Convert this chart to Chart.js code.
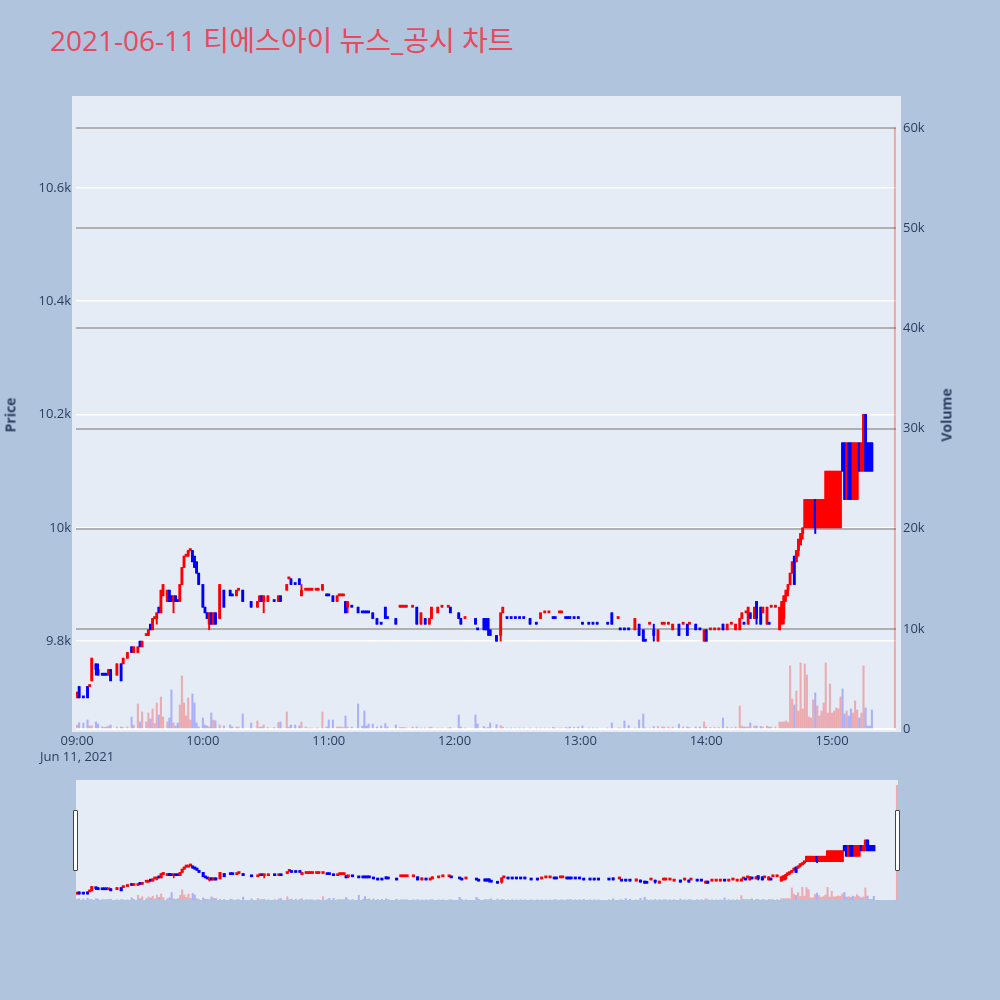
<!DOCTYPE html>
<html>
<head>
<meta charset="utf-8">
<script src="https://cdn.jsdelivr.net/npm/chart.js@4.4.1/dist/chart.umd.min.js"></script>
<style>
    body { margin: 0; background: #b0c4de; width: 1000px; height: 1000px; overflow: hidden; position: relative;
           font-family: "Open Sans", "Noto Sans CJK KR", sans-serif; }
    #title { position: absolute; left: 50px; top: 21px; font-size: 28px; line-height: 38px; color: #e8495c; white-space: nowrap; }
    .axis-title { position: absolute; font-size: 14px; font-weight: bold; color: #2a3f5f; white-space: nowrap;
                  transform: translate(-50%, -50%) rotate(-90deg); }
    #main { position: absolute; left: 0; top: 0; }
    #slider { position: absolute; left: 76px; top: 780px; }
    .handle { position: absolute; top: 810px; width: 3px; height: 59px; background: #fff; border: 1px solid #444; border-radius: 1px; }
</style>
</head>
<body>
<div id="title">2021-06-11 티에스아이 뉴스_공시 차트</div>
<canvas id="main" width="1000" height="770"></canvas>
<canvas id="slider" width="822" height="120"></canvas>
<div class="axis-title" style="left:10px; top:415px;">Price</div>
<div class="axis-title" style="left:946px; top:415px;">Volume</div>
<div class="handle" style="left:73px;"></div>
<div class="handle" style="left:895px;"></div>

<script>
// minutes after 09:00
const minutes = [
    0,1,3,5,6,7,9,10,12,13,
    14,15,16,19,21,22,24,26,27,29,
    30,31,33,34,35,36,37,38,39,40,
    41,43,44,45,46,47,48,49,50,51,
    52,53,54,55,56,57,58,60,61,62,
    63,64,65,66,68,70,73,74,76,77,
    79,83,86,87,88,89,91,94,96,97,
    100,101,102,104,106,107,109,110,111,112,
    114,115,117,119,120,122,124,125,126,127,
    128,129,131,134,136,137,138,139,141,143,
    145,147,148,152,154,155,156,157,160,162,
    164,166,168,169,172,174,177,178,182,183,
    185,190,191,194,195,196,197,200,202,203,
    205,207,209,211,213,216,219,221,223,225,
    227,228,230,231,233,234,235,237,239,241,
    244,246,248,253,255,258,259,261,263,266,
    268,270,271,273,275,277,279,280,282,284,
    287,289,291,292,295,297,299,300,302,304,
    306,308,310,312,314,316,317,318,319,320,
    321,323,324,326,327,329,330,331,333,335,
    336,337,338,339,340,341,342,343,344,345,
    346,347,348,349,350,351,352,353,354,355,
    356,357,358,359,360,361,362,363,364,365,
    366,367,368,369,370,371,372,373,374,375,
    376,377,378,379,390
];

const opens = [
    9700,9720,9700,9720,9720,9730,9760,9750,9740,9740,
    9740,9740,9750,9740,9760,9760,9770,9790,9780,9780,
    9800,9790,9810,9810,9830,9820,9840,9840,9860,9850,
    9880,9870,9890,9880,9870,9880,9870,9870,9900,9930,
    9950,9950,9960,9960,9950,9940,9920,9900,9860,9850,
    9830,9850,9830,9850,9840,9890,9890,9880,9880,9890,
    9890,9870,9860,9870,9880,9870,9870,9870,9870,9880,
    9890,9910,9910,9900,9910,9880,9890,9890,9890,9890,
    9890,9890,9890,9880,9880,9880,9870,9880,9880,9880,
    9870,9860,9860,9860,9850,9850,9850,9850,9850,9840,
    9830,9860,9840,9840,9860,9860,9860,9860,9860,9860,
    9830,9840,9830,9840,9850,9860,9860,9860,9850,9840,
    9840,9840,9820,9840,9840,9840,9820,9810,9810,9850,
    9840,9840,9840,9840,9840,9840,9830,9840,9850,9850,
    9840,9840,9850,9850,9840,9840,9840,9840,9840,9830,
    9830,9830,9830,9830,9850,9840,9820,9820,9820,9820,
    9830,9820,9800,9830,9820,9800,9830,9830,9830,9820,
    9830,9830,9830,9830,9830,9820,9800,9820,9820,9820,
    9820,9830,9820,9830,9820,9820,9840,9830,9850,9830,
    9850,9840,9870,9860,9850,9830,9830,9860,9860,9820,
    9830,9840,9880,9890,9900,9920,9950,9940,9960,9970,
    9990,10000,10000,10000,10000,10000,10050,10000,10000,10000,
    10000,10000,10000,10000,10000,10000,10000,10000,10000,10150,
    10150,10050,10150,10150,10050,10050,10050,10150,10100,10100,
    10200,10150,10150,10150,null
];

const highs = [
    9710,9720,9700,9720,9720,9770,9760,9760,9740,9740,
    9740,9750,9750,9760,9760,9770,9780,9790,9790,9790,
    9800,9800,9810,9820,9830,9840,9840,9850,9860,9890,
    9900,9890,9890,9880,9880,9880,9870,9900,9930,9950,
    9950,9960,9960,9960,9950,9940,9920,9900,9860,9850,
    9850,9850,9850,9850,9900,9890,9890,9880,9890,9890,
    9890,9870,9870,9880,9880,9880,9880,9870,9880,9880,
    9900,9910,9910,9900,9910,9900,9890,9890,9890,9890,
    9890,9890,9900,9880,9880,9880,9880,9880,9880,9880,
    9870,9870,9860,9860,9850,9850,9850,9850,9850,9840,
    9830,9860,9840,9840,9860,9860,9860,9860,9860,9860,
    9850,9840,9840,9860,9860,9860,9860,9860,9850,9840,
    9840,9840,9820,9840,9840,9840,9820,9810,9850,9860,
    9840,9840,9840,9840,9840,9840,9830,9850,9850,9850,
    9840,9840,9850,9850,9840,9840,9840,9840,9840,9830,
    9830,9830,9830,9830,9850,9840,9820,9820,9820,9840,
    9830,9820,9800,9830,9830,9820,9830,9830,9830,9830,
    9830,9830,9830,9830,9830,9820,9820,9820,9820,9820,
    9820,9830,9830,9830,9830,9840,9850,9830,9850,9860,
    9850,9860,9870,9860,9860,9860,9830,9860,9860,9860,
    9870,9880,9890,9900,9920,9940,9950,9960,9980,9990,
    10000,10050,10050,10050,10050,10050,10050,10050,10050,10050,
    10050,10100,10100,10100,10100,10100,10100,10100,10100,10150,
    10150,10150,10150,10150,10150,10150,10150,10150,10150,10200,
    10200,10150,10150,10150,null
];

const lows = [
    9700,9700,9700,9700,9720,9730,9740,9740,9740,9740,
    9740,9740,9730,9740,9730,9760,9770,9780,9780,9780,
    9790,9790,9810,9810,9820,9820,9840,9830,9850,9850,
    9880,9870,9870,9870,9850,9870,9870,9870,9900,9930,
    9950,9950,9960,9940,9930,9920,9900,9860,9850,9840,
    9820,9830,9830,9830,9840,9860,9880,9880,9880,9890,
    9870,9860,9860,9870,9870,9850,9870,9870,9870,9870,
    9890,9910,9900,9900,9900,9880,9890,9890,9890,9890,
    9890,9890,9890,9880,9880,9870,9870,9880,9880,9880,
    9850,9850,9860,9850,9850,9850,9850,9850,9840,9830,
    9830,9840,9840,9830,9860,9860,9860,9860,9860,9830,
    9830,9830,9830,9840,9850,9860,9860,9850,9840,9830,
    9840,9830,9820,9820,9820,9810,9810,9800,9800,9850,
    9840,9840,9840,9840,9840,9830,9830,9840,9850,9850,
    9840,9840,9850,9850,9840,9840,9840,9840,9840,9830,
    9830,9830,9830,9830,9830,9840,9820,9820,9820,9820,
    9810,9800,9800,9830,9800,9800,9830,9830,9830,9820,
    9810,9830,9810,9830,9820,9820,9800,9800,9820,9820,
    9820,9820,9820,9830,9820,9820,9840,9830,9850,9830,
    9840,9840,9830,9830,9850,9830,9830,9860,9860,9820,
    9830,9830,9870,9880,9900,9920,9900,9940,9950,9970,
    9980,10000,10000,10000,10000,10000,9990,10000,10000,10000,
    10000,10000,10000,10000,10000,10000,10000,10000,10000,10100,
    10050,10050,10050,10050,10050,10050,10050,10100,10100,10100,
    10100,10100,10100,10100,null
];

const closes = [
    9710,9700,9700,9700,9720,9770,9750,9740,9740,9740,
    9740,9750,9730,9760,9730,9770,9780,9780,9790,9790,
    9790,9800,9810,9820,9820,9840,9840,9850,9850,9890,
    9900,9890,9870,9870,9880,9870,9870,9900,9930,9950,
    9950,9960,9960,9940,9930,9920,9900,9860,9850,9840,
    9850,9830,9850,9830,9900,9860,9880,9880,9890,9890,
    9870,9860,9870,9880,9870,9880,9880,9870,9880,9870,
    9900,9910,9900,9900,9900,9890,9890,9890,9890,9890,
    9890,9890,9900,9880,9880,9870,9880,9880,9880,9880,
    9850,9870,9860,9850,9850,9850,9850,9850,9840,9830,
    9830,9840,9840,9830,9860,9860,9860,9860,9860,9830,
    9850,9830,9840,9860,9860,9860,9860,9850,9840,9830,
    9840,9830,9820,9820,9820,9820,9810,9800,9850,9860,
    9840,9840,9840,9840,9840,9830,9830,9850,9850,9850,
    9840,9840,9850,9850,9840,9840,9840,9840,9840,9830,
    9830,9830,9830,9830,9830,9840,9820,9820,9820,9840,
    9810,9800,9800,9830,9810,9820,9830,9830,9830,9830,
    9810,9830,9810,9830,9820,9820,9820,9800,9820,9820,
    9820,9820,9830,9830,9830,9840,9850,9830,9850,9860,
    9840,9860,9840,9830,9860,9860,9830,9860,9860,9860,
    9870,9880,9890,9900,9920,9940,9900,9960,9980,9990,
    10000,10050,10050,10050,10050,10050,10000,10050,10050,10050,
    10050,10100,10100,10100,10100,10100,10100,10100,10100,10100,
    10050,10150,10050,10050,10150,10150,10150,10100,10150,10200,
    10100,10100,10100,10100,null
];

const volumes = [
    400,630,600,900,300,300,700,500,200,150,
    200,300,400,200,200,150,200,1200,400,2500,
    700,1700,700,1600,1000,2000,550,2600,1400,3200,
    1200,700,1100,3900,600,300,600,2400,5300,2600,
    1300,3100,900,3500,2600,600,200,1100,400,300,
    200,1600,900,800,400,300,400,200,200,200,
    1500,600,800,200,200,400,150,150,650,700,
    1700,200,400,400,300,700,200,100,100,100,
    100,100,1700,200,900,900,200,200,200,150,
    1300,200,200,2500,300,1800,300,500,500,200,
    300,550,200,400,150,150,150,100,200,200,
    100,100,150,200,100,100,100,150,1400,200,
    100,1400,500,250,100,150,600,450,350,200,
    100,100,100,100,100,100,100,100,100,100,
    170,100,100,100,150,100,200,150,200,300,
    100,100,100,100,600,100,100,800,350,100,
    900,1500,100,100,250,250,200,200,200,200,
    500,200,200,150,200,200,700,200,150,150,
    150,1100,200,150,200,2300,300,200,200,200,
    600,300,300,250,200,300,200,200,200,700,
    700,700,800,650,6300,3000,2400,3800,1800,6600,
    2000,6500,5400,1200,1100,2900,3600,2300,1300,1800,
    2600,6600,1600,4500,1600,1800,2100,2000,3200,4000,
    1500,1800,1300,2000,1600,2800,1900,1100,1600,6300,
    2100,300,300,1900,60000
];

const xTicks = [0, 60, 120, 180, 240, 300, 360];
const priceTicks = [9800, 10000, 10200, 10400, 10600];
const volumeTicks = [0, 10000, 20000, 30000, 40000, 50000, 60000];

const RED = '#ff0000';
const BLUE = '#0000ff';
const RED_VOL = 'rgba(255, 0, 0, 0.28)';
const BLUE_VOL = 'rgba(0, 0, 255, 0.25)';

// candle direction, flat candles follow the previous close
const dirs = [];
let prevClose = null;
let lastDir = 1;
minutes.forEach((m, i) => {
    const o = opens[i], c = closes[i];
    if (o === null) { dirs.push(1); return; }
    let d;
    if (c > o) d = 1;
    else if (c < o) d = -1;
    else if (prevClose !== null && c !== prevClose) d = c > prevClose ? 1 : -1;
    else d = lastDir;
    dirs.push(d);
    lastDir = d;
    prevClose = c;
});

const candleIdx = minutes.map((m, i) => i).filter(i => opens[i] !== null);

function buildDatasets(bodyW, wickW, volW) {
    return [
        {
            label: 'body',
            data: candleIdx.map(i => ({ x: minutes[i], y: [opens[i], closes[i]] })),
            backgroundColor: candleIdx.map(i => dirs[i] > 0 ? RED : BLUE),
            barThickness: bodyW,
            minBarLength: 2,
            grouped: false,
            yAxisID: 'y',
            order: 1
        },
        {
            label: 'wick',
            data: candleIdx.map(i => ({ x: minutes[i], y: [lows[i], highs[i]] })),
            backgroundColor: candleIdx.map(i => dirs[i] > 0 ? RED : BLUE),
            barThickness: wickW,
            minBarLength: 1,
            grouped: false,
            yAxisID: 'y',
            order: 2
        },
        {
            label: 'Volume',
            data: minutes.map((m, i) => ({ x: m, y: volumes[i] })),
            backgroundColor: minutes.map((m, i) => dirs[i] > 0 ? RED_VOL : BLUE_VOL),
            barThickness: volW,
            grouped: false,
            yAxisID: 'y2',
            order: 3
        }
    ];
}

// light panel behind the plot area
const plotBg = {
    id: 'plotBg',
    beforeDraw(chart, args, opts) {
        const a = chart.chartArea;
        const p = opts.pad || [0, 0, 0, 0];
        const ctx = chart.ctx;
        ctx.save();
        ctx.fillStyle = '#e5ecf6';
        ctx.fillRect(a.left - p[0], a.top - p[1], a.width + p[0] + p[2], a.height + p[1] + p[3]);
        ctx.restore();
    }
};

function timeLabel(v) {
    const h = 9 + Math.floor(v / 60);
    const mm = v % 60;
    const s = String(h).padStart(2, '0') + ':' + String(mm).padStart(2, '0');
    return v === 0 ? [s, 'Jun 11, 2021'] : s;
}

Chart.defaults.font.family = '"Open Sans", "Noto Sans CJK KR", sans-serif';
Chart.defaults.font.size = 13;
Chart.defaults.color = '#2a3f5f';

const X_MIN = -0.5, X_MAX = 390.5;
const P_MIN = 9645, P_MAX = 10755;
const V_MIN = 0, V_MAX = 62800;

new Chart(document.getElementById('main').getContext('2d'), {
    type: 'bar',
    data: { datasets: buildDatasets(2.2, 1.3, 1.4) },
    options: {
        responsive: false,
        animation: false,
        devicePixelRatio: 1,
        layout: { padding: { top: 100, left: 0, right: 0, bottom: 0 } },
        plugins: {
            legend: { display: false },
            tooltip: { enabled: false },
            plotBg: { pad: [4, 4, 5, 3] }
        },
        scales: {
            x: {
                type: 'linear',
                min: X_MIN,
                max: X_MAX,
                offset: false,
                grid: { display: false, drawTicks: false, offset: false },
                border: { display: false },
                afterBuildTicks: s => { s.ticks = xTicks.map(v => ({ value: v })); },
                afterFit: s => { s.height = 41; },
                ticks: {
                    padding: 4,
                    maxRotation: 0,
                    autoSkip: false,
                    font: { size: 13, lineHeight: 1.25 },
                    callback: v => timeLabel(v)
                }
            },
            y: {
                position: 'left',
                min: P_MIN,
                max: P_MAX,
                grid: { color: '#ffffff', lineWidth: 1.5, drawTicks: false },
                border: { display: false },
                afterBuildTicks: s => { s.ticks = priceTicks.map(v => ({ value: v })); },
                afterFit: s => { s.width = 76; },
                ticks: { padding: 5, callback: v => (v / 1000) + 'k' }
            },
            y2: {
                position: 'right',
                min: V_MIN,
                max: V_MAX,
                grid: {
                    color: c => c.tick && c.tick.value === 0 ? '#ffffff' : '#b0b0b0',
                    lineWidth: 2,
                    drawTicks: false
                },
                border: { display: false },
                afterBuildTicks: s => { s.ticks = volumeTicks.map(v => ({ value: v })); },
                afterFit: s => { s.width = 104; },
                ticks: { padding: 7, callback: v => v === 0 ? '0' : (v / 1000) + 'k' }
            }
        }
    },
    plugins: [plotBg]
});

// range slider preview
new Chart(document.getElementById('slider').getContext('2d'), {
    type: 'bar',
    data: { datasets: buildDatasets(2.5, 1, 1.4) },
    options: {
        responsive: false,
        animation: false,
        devicePixelRatio: 1,
        layout: { padding: 0 },
        plugins: {
            legend: { display: false },
            tooltip: { enabled: false },
            plotBg: { pad: [0, 0, 0, 0] }
        },
        scales: {
            x: { type: 'linear', min: X_MIN, max: X_MAX, offset: false, display: false },
            y: { min: P_MIN, max: P_MAX, display: false },
            y2: { min: V_MIN, max: V_MAX, display: false }
        }
    },
    plugins: [plotBg]
});
</script>
</body>
</html>
